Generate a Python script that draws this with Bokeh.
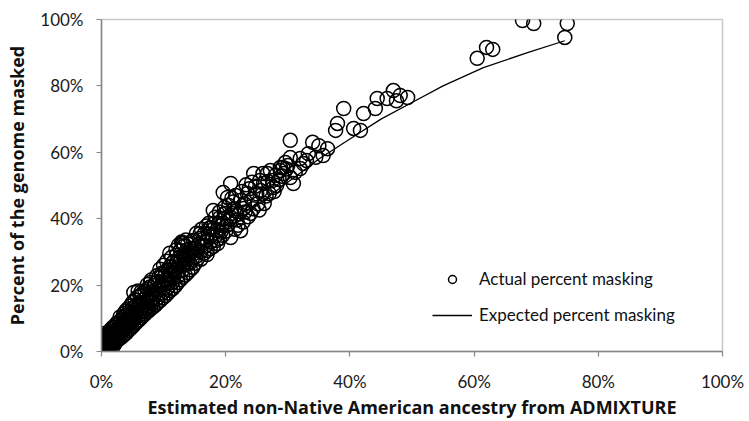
from bokeh.plotting import figure
from bokeh.models import Range1d, PrintfTickFormatter, FixedTicker, Legend, LegendItem
from bokeh.embed import file_html
from bokeh.resources import INLINE

# Actual percent masking (x: estimated non-Native ancestry %, y: percent of genome masked)
actual_x = [
    0.0, 0.1, 0.2, 0.0, 0.3, 0.1, 0.4, 0.2, 0.0, 0.5, 0.3, 0.1, 0.6, 0.4, 0.7, 0.8, 0.9, 0.6, 1.0, 0.2, 0.5, 0.8, 0.0, 0.3, 0.9, 0.1, 0.2, 0.7,
    1.1, 1.2, 1.3, 1.4, 1.5, 1.6, 1.7, 1.8, 1.9, 2.0, 2.1, 2.2, 2.3, 2.4, 2.5, 2.6, 2.7, 2.8, 2.9, 3.0, 3.1, 1.2, 2.0, 2.6, 1.0,
    3.2, 3.3, 3.4, 3.5, 3.6, 3.7, 3.8, 3.9, 4.0, 4.1, 4.2, 4.3, 4.4, 4.5, 4.6, 4.7, 4.8, 4.9, 5.0, 5.1, 3.5, 4.4, 5.0,
    5.2, 5.4, 5.6, 5.8, 6.0, 6.2, 6.4, 6.6, 6.8, 7.0, 7.2, 7.4, 7.6, 7.8, 8.0, 5.5, 6.1, 6.7, 7.3, 7.9, 5.2, 5.9, 6.4, 7.4, 7.9,
    8.2, 8.4, 8.6, 8.8, 9.0, 9.2, 9.4, 9.6, 9.8, 10.0, 10.2, 10.4, 10.6, 10.8, 11.0, 11.2, 11.4, 11.6, 11.8, 12.0, 8.5, 9.1, 9.7, 10.3, 10.9, 11.5, 10.0, 11.3, 8.0,
    12.2, 12.4, 12.6, 12.8, 13.0, 13.2, 13.4, 13.6, 13.8, 14.0, 14.2, 14.4, 14.6, 14.8, 15.0, 12.1, 12.7, 13.3, 13.9, 14.5, 12.4, 13.0,
    15.2, 15.4, 15.6, 15.8, 16.0, 16.2, 16.4, 16.6, 16.8, 17.0, 17.2, 17.4, 17.6, 17.8, 18.0, 18.2, 18.4, 18.6, 18.8, 19.0, 19.2, 19.4, 19.6, 19.8,
    15.9, 17.6, 18.0, 14.8, 13.2, 18.7, 17.0, 19.6, 20.3, 20.8, 19.6, 20.8, 20.8,
    20.2, 20.6, 21.0, 21.4, 21.8, 22.2, 22.4, 22.4, 22.9, 23.5, 24.0, 24.5, 23.0, 24.2, 25.0, 25.6, 26.1, 26.7, 27.7, 28.8, 26.0, 27.2, 28.8, 29.6, 30.4,
    25.2, 26.5, 27.5, 28.2, 29.0, 29.8, 21.2, 23.8, 25.5, 22.0,
    30.4, 30.9, 30.4, 32.0, 32.5, 32.0, 33.3, 34.0, 35.0, 36.4, 35.7, 31.2, 33.0, 34.5, 30.0,
    37.7, 38.0, 39.0, 40.6, 41.7, 42.2, 44.1, 44.4, 46.0, 47.0, 48.1, 49.3, 47.5,
    60.5, 62.0, 63.0, 67.8, 69.6, 75.0, 74.6,
]
actual_y = [
    0.0, 0.3, 0.6, 1.0, 1.3, 1.7, 2.1, 2.5, 2.9, 3.2, 3.6, 4.0, 4.4, 0.4, 1.0, 1.8, 2.6, 3.0, 3.5, 4.8, 5.0, 4.2, 0.5, 0.1, 0.9, 1.2, 3.3, 2.3,
    1.5, 2.4, 3.4, 4.3, 5.2, 2.9, 3.8, 4.8, 5.9, 3.4, 4.4, 5.4, 6.4, 4.0, 5.0, 6.0, 7.0, 4.9, 5.9, 6.9, 7.9, 5.8, 7.2, 8.0, 0.6,
    5.8, 6.8, 7.8, 8.8, 6.4, 7.4, 8.4, 9.4, 7.3, 8.3, 9.3, 10.3, 8.0, 9.0, 10.0, 11.0, 8.8, 9.8, 10.8, 11.8, 10.5, 12.0, 13.0,
    9.6, 10.6, 11.6, 12.6, 10.8, 11.8, 12.8, 13.8, 12.2, 13.2, 14.2, 15.2, 13.5, 14.5, 15.5, 13.8, 14.6, 15.6, 16.6, 17.2, 17.8, 18.2, 18.0, 20.2, 20.8,
    14.6, 16.0, 17.4, 18.6, 16.0, 17.4, 18.8, 20.0, 17.6, 19.0, 20.4, 21.8, 19.2, 20.6, 22.0, 23.4, 20.8, 22.2, 23.6, 25.0, 19.8, 21.0, 22.6, 24.0, 25.4, 26.8, 26.0, 28.4, 21.5,
    22.6, 24.2, 25.8, 27.4, 24.4, 26.0, 27.6, 29.0, 26.4, 28.0, 29.6, 31.0, 27.8, 29.4, 31.0, 29.0, 30.4, 31.8, 32.4, 33.2, 32.0, 32.6,
    28.6, 30.4, 32.2, 34.0, 30.2, 32.0, 33.8, 35.6, 31.8, 33.6, 35.4, 37.2, 33.2, 35.0, 36.8, 38.6, 34.8, 36.6, 38.4, 40.2, 36.0, 38.0, 40.0, 41.6,
    35.5, 37.3, 42.5, 33.4, 32.5, 32.5, 30.4, 47.9, 46.4, 50.6, 38.6, 40.4, 34.3,
    38.0, 39.8, 41.6, 43.0, 39.6, 41.4, 36.4, 45.5, 43.1, 47.6, 41.6, 53.6, 44.5, 45.8, 47.5, 48.5, 50.6, 53.6, 49.4, 54.5, 53.6, 54.5, 55.4, 56.9, 58.4,
    44.5, 46.8, 51.5, 50.0, 52.8, 55.0, 45.0, 49.0, 51.5, 38.0,
    52.4, 50.6, 63.6, 55.1, 56.6, 58.1, 59.6, 63.0, 62.0, 61.1, 59.0, 54.0, 57.5, 58.5, 56.0,
    66.6, 68.7, 73.2, 67.2, 66.6, 71.7, 73.2, 76.2, 76.2, 78.6, 77.1, 76.5, 75.5,
    88.3, 91.6, 91.0, 99.7, 98.8, 98.8, 94.6,
]

# Further samples in the dense low-ancestry band
dense_x = [
    0.0, 0.1, 0.2, 0.3, 0.4, 0.5, 0.6, 0.0, 0.1, 0.4, 0.7, 0.9, 1.1, 1.3, 1.4, 1.6, 1.8, 2.0, 2.2, 2.4, 2.6, 2.8, 3.0, 1.5, 1.8, 2.2, 2.5, 2.9, 3.2,
    3.4, 3.7, 4.0, 4.3, 4.6, 4.9, 5.2, 5.5, 5.8, 6.1, 6.4, 6.7, 7.0, 7.3, 7.6, 7.9, 3.6, 3.9, 4.2, 4.6, 5.0, 5.4, 5.8, 6.2, 6.6, 7.0, 7.4, 7.8, 3.0, 4.0, 5.3, 6.3, 6.9, 7.7,
    8.3, 8.7, 9.1, 9.5, 9.9, 10.3, 10.7, 11.1, 11.5, 11.9, 12.3, 12.7, 13.1, 13.5, 13.9, 14.3, 14.7, 8.2, 8.7, 9.2, 9.7, 10.2, 10.7, 11.2, 11.7, 12.2, 12.7, 13.2, 13.7, 14.2, 14.7, 8.9, 9.4, 10.5, 11.0, 12.0, 12.9, 13.6,
    15.1, 15.5, 16.0, 16.5, 17.0, 17.5, 18.0, 18.5, 19.0, 19.5, 20.0, 15.3, 16.1, 16.9, 17.3, 18.3, 19.0, 19.8, 20.5, 21.0, 21.6, 22.6, 23.3, 24.2, 24.8,
    21.5, 22.8, 23.6, 24.4, 25.4, 26.2, 27.0, 27.8, 28.6, 29.4, 26.8, 28.0, 29.2, 25.9, 23.1, 20.0, 21.6,
]
dense_y = [
    1.8, 2.6, 3.9, 4.4, 1.5, 2.2, 0.2, 3.4, 4.5, 5.4, 5.0, 4.6, 5.2, 6.0, 1.2, 1.9, 2.5, 1.8, 2.6, 3.0, 3.5, 3.8, 4.0, 6.6, 7.2, 7.8, 8.6, 9.0, 9.6,
    4.6, 5.2, 5.6, 6.3, 6.8, 7.4, 7.9, 8.6, 9.1, 9.6, 10.2, 10.8, 11.3, 11.9, 12.3, 12.9, 11.4, 12.2, 12.8, 13.6, 14.8, 15.6, 16.4, 16.8, 17.4, 18.2, 18.8, 19.4, 10.4, 10.9, 12.4, 14.2, 14.8, 16.2,
    13.4, 14.0, 14.8, 15.4, 16.2, 16.8, 17.6, 18.4, 19.0, 19.8, 20.8, 21.6, 22.4, 23.0, 23.8, 24.6, 25.4, 18.0, 20.6, 22.2, 23.6, 22.8, 24.6, 25.6, 27.2, 27.0, 28.4, 28.8, 30.4, 26.6, 30.2, 22.8, 24.8, 27.2, 29.6, 30.6, 33.0, 33.6,
    26.6, 28.0, 27.8, 29.6, 29.2, 31.0, 31.6, 33.4, 34.0, 35.0, 36.2, 35.6, 36.8, 37.8, 38.6, 40.4, 42.0, 43.4, 44.0, 46.2, 47.0, 48.2, 50.2, 51.0, 49.8,
    36.8, 39.0, 40.6, 43.0, 42.6, 44.6, 47.6, 48.2, 51.8, 53.6, 51.2, 53.0, 55.4, 47.4, 42.0, 41.6, 42.4,
]

# Expected percent masking curve
expected_x = [0, 5, 10, 15, 20, 25, 30, 35, 40, 45, 50, 55, 61.5, 68.6, 74.6]
expected_y = [0, 10, 19, 28, 36, 44, 51, 58, 64, 70, 75, 80, 85.5, 90, 93.6]

x_ticks = [0, 20, 40, 60, 80, 100]
y_ticks = [0, 20, 40, 60, 80, 100]

p = figure(width=749, height=421, output_backend="svg", toolbar_location=None,
           x_range=Range1d(0, 100), y_range=Range1d(0, 100))
p.min_border_left = 101
p.min_border_right = 27
p.min_border_top = 19
p.min_border_bottom = 70
p.background_fill_color = "white"
p.border_fill_color = "white"
p.outline_line_color = "#c8c8c8"
p.outline_line_width = 1.5
p.xgrid.visible = False
p.ygrid.visible = False

line_r = p.line(expected_x, expected_y, line_color="black", line_width=1.3)
sc_r = p.scatter(actual_x + dense_x, actual_y + dense_y, marker="circle", size=14,
                 fill_color=None, line_color="black", line_width=1.5)

for ax, ticks in ((p.xaxis[0], x_ticks), (p.yaxis[0], y_ticks)):
    ax.ticker = FixedTicker(ticks=ticks)
    ax.formatter = PrintfTickFormatter(format="%d%%")
    ax.axis_line_color = "#868686"
    ax.axis_line_width = 1.5
    ax.major_tick_line_color = "#868686"
    ax.major_tick_line_width = 1.2
    ax.major_tick_in = 0
    ax.major_tick_out = 5
    ax.minor_tick_line_color = None
    ax.major_label_text_font = "Lato"
    ax.major_label_text_font_size = "17px"
    ax.major_label_text_color = "#1a1a1a"
    ax.axis_label_text_font = "Open Sans"
    ax.axis_label_text_font_style = "bold"
    ax.axis_label_text_font_size = "18px"
    ax.axis_label_text_color = "#111111"

p.xaxis[0].axis_label = "Estimated non-Native American ancestry from ADMIXTURE"
p.yaxis[0].axis_label = "Percent of the genome masked"
p.xaxis[0].major_label_standoff = 14
p.yaxis[0].major_label_standoff = 13
p.xaxis[0].axis_label_standoff = 0
p.yaxis[0].axis_label_standoff = 8

legend = Legend(items=[LegendItem(label="Actual percent masking", renderers=[sc_r]),
                       LegendItem(label="Expected percent masking", renderers=[line_r])],
                location=(321, 16), orientation="vertical")
legend.background_fill_alpha = 0
legend.border_line_alpha = 0
legend.label_text_font = "Lato"
legend.label_text_font_size = "17px"
legend.label_text_color = "#111111"
legend.glyph_width = 40
legend.glyph_height = 20
legend.label_height = 20
legend.spacing = 15
legend.label_standoff = 7
legend.padding = 10
legend.margin = 0
p.add_layout(legend, "center")

open("out.html", "w").write(file_html(p, INLINE))
